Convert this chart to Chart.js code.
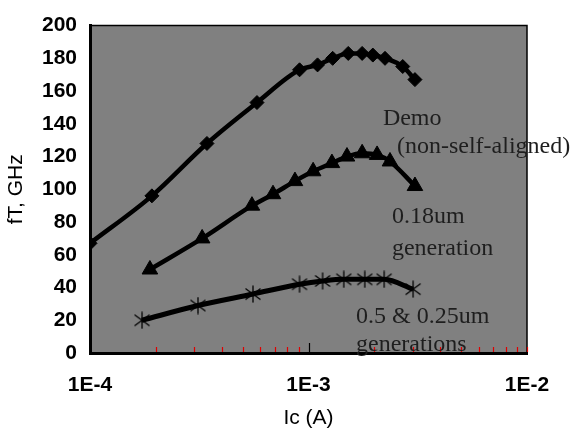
<!DOCTYPE html>
<html>
<head>
<meta charset="utf-8">
<script src="https://cdn.jsdelivr.net/npm/chart.js@4/dist/chart.umd.min.js"></script>
<style>
  html, body { margin: 0; padding: 0; background: #fff; }
  #wrap { width: 571px; height: 429px; position: relative; }
</style>
</head>
<body>
<div id="wrap"><canvas id="Chart"></canvas></div>
<script>
// Ic (A) and fT (GHz)
let demoIc = [1.0e-4, 1.92e-4, 3.43e-4, 5.81e-4, 9.1e-4, 1.10e-3, 1.29e-3, 1.52e-3, 1.76e-3, 1.97e-3, 2.24e-3, 2.70e-3, 3.07e-3];
let demoFt = [67, 96, 128, 153, 173, 176, 180, 183, 183, 182, 180, 175, 167];

let gen018Ic = [1.88e-4, 3.26e-4, 5.51e-4, 6.88e-4, 8.67e-4, 1.05e-3, 1.28e-3, 1.50e-3, 1.76e-3, 2.06e-3, 2.36e-3, 3.07e-3];
let gen018Ft = [51, 70, 90, 97, 105, 111, 116, 120, 122, 121, 117, 102];

let gen05Ic = [1.73e-4, 3.12e-4, 5.57e-4, 9.1e-4, 1.16e-3, 1.45e-3, 1.81e-3, 2.22e-3, 3.01e-3];
let gen05Ft = [20, 29, 36, 42, 44, 45, 45, 45, 39];

let xTickValues = [1e-4, 1e-3, 1e-2];
let xTickLabels = ['1E-4', '1E-3', '1E-2'];

// annotation text anchored at (Ic, fT), left edge / middle
let noteTexts = ['Demo', '(non-self-aligned)', '0.18um', 'generation', '0.5 & 0.25um', 'generations'];
let noteIc = [2.19e-3, 2.54e-3, 2.41e-3, 2.41e-3, 1.65e-3, 1.65e-3];
let noteFt = [143, 126, 83, 64, 22, 5];

function pts(xs, ys) {
    return xs.map((x, i) => ({x: x, y: ys[i]}));
}

// excel style star marker: X plus a vertical bar
function starMarker() {
    let c = document.createElement('canvas');
    c.width = 18; c.height = 18;
    let g = c.getContext('2d');
    g.strokeStyle = '#000';
    g.lineWidth = 1.3;
    g.beginPath();
    g.moveTo(9, 0.5); g.lineTo(9, 17.5);
    g.moveTo(1.5, 3.5); g.lineTo(16.5, 14.5);
    g.moveTo(16.5, 3.5); g.lineTo(1.5, 14.5);
    g.stroke();
    return c;
}

let plotBg = {
    id: 'plotBg',
    beforeDraw(chart) {
        let a = chart.chartArea, ctx = chart.ctx;
        ctx.save();
        ctx.fillStyle = '#808080';
        ctx.fillRect(a.left, a.top, a.right - a.left, a.bottom - a.top);
        ctx.strokeStyle = '#000';
        ctx.lineWidth = 1.5;
        ctx.beginPath();
        ctx.moveTo(a.left, a.top); ctx.lineTo(a.right, a.top); ctx.lineTo(a.right, a.bottom);
        ctx.stroke();
        ctx.restore();
    },
    afterDraw(chart) {
        let ctx = chart.ctx, x = chart.scales.x, y = chart.scales.y;
        ctx.save();
        // minor ticks on the log axis
        ctx.lineWidth = 1.2;
        for (let d = -4; d < -2; d++) {
            for (let k = 2; k <= 10; k++) {
                let px = Math.round(x.getPixelForValue(k * Math.pow(10, d))) + 0.5;
                let major = (k === 10 && d === -4);
                ctx.strokeStyle = major ? '#000' : '#e00000';
                let h = major ? 9 : 5;
                ctx.beginPath();
                ctx.moveTo(px, y.bottom - 1);
                ctx.lineTo(px, y.bottom - 1 - h);
                ctx.stroke();
            }
        }
        // annotations
        ctx.fillStyle = '#1e1e1e';
        ctx.font = '24px "Liberation Serif", "Times New Roman", serif';
        ctx.textBaseline = 'middle';
        ctx.textAlign = 'left';
        noteTexts.forEach((t, i) => {
            ctx.fillText(t, x.getPixelForValue(noteIc[i]), y.getPixelForValue(noteFt[i]));
        });
        ctx.restore();
    }
};

let graph = document.getElementById('Chart');

let chartdtl = {
    type: 'line',
    data: {
        datasets: [{
            label: 'Demo (non-self-aligned)',
            data: pts(demoIc, demoFt),
            borderColor: '#000',
            backgroundColor: '#000',
            borderWidth: 4.5,
            pointStyle: 'rectRot',
            pointRadius: 7,
            pointBorderWidth: 1,
            cubicInterpolationMode: 'monotone',
            clip: 0,
        }, {
            label: '0.18um generation',
            data: pts(gen018Ic, gen018Ft),
            borderColor: '#000',
            backgroundColor: '#000',
            borderWidth: 4.5,
            pointStyle: 'triangle',
            pointRadius: 9,
            pointBorderWidth: 1,
            cubicInterpolationMode: 'monotone',
        }, {
            label: '0.5 & 0.25um generations',
            data: pts(gen05Ic, gen05Ft),
            borderColor: '#000',
            backgroundColor: '#000',
            borderWidth: 5,
            pointStyle: starMarker(),
            cubicInterpolationMode: 'monotone',
        }],
    },
    options: {
        responsive: true,
        maintainAspectRatio: false,
        animation: false,
        layout: { padding: { left: 0, top: 18, right: 44, bottom: 0 } },
        plugins: {
            legend: { display: false },
            tooltip: { enabled: false },
        },
        scales: {
            x: {
                type: 'logarithmic',
                min: 1e-4,
                max: 1e-2,
                afterBuildTicks(scale) {
                    scale.ticks = xTickValues.map(v => ({value: v}));
                },
                afterFit(scale) { scale.height = 76; },
                grid: { display: false, drawTicks: false },
                border: { display: true, color: '#000', width: 3 },
                ticks: {
                    autoSkip: false,
                    maxRotation: 0,
                    padding: 20,
                    color: '#000',
                    font: { family: 'Arial, "Liberation Sans", sans-serif', size: 21, weight: 'bold' },
                    callback: function (v) {
                        let i = xTickValues.findIndex(t => Math.abs(t - v) / t < 1e-6);
                        return i >= 0 ? xTickLabels[i] : '';
                    },
                },
                title: {
                    display: true,
                    text: 'Ic (A)',
                    color: '#000',
                    padding: { top: 0, bottom: 0 },
                    font: { family: 'Arial, "Liberation Sans", sans-serif', size: 21, lineHeight: 1 },
                },
            },
            y: {
                min: 0,
                max: 200,
                afterFit(scale) { scale.width = 90; },
                grid: { display: false, drawTicks: false },
                border: { display: true, color: '#000', width: 3 },
                ticks: {
                    stepSize: 20,
                    padding: 13,
                    color: '#000',
                    font: { family: 'Arial, "Liberation Sans", sans-serif', size: 21, weight: 'bold' },
                },
                title: {
                    display: true,
                    text: 'fT, GHz',
                    color: '#000',
                    padding: { top: 6, bottom: 0 },
                    font: { family: 'Arial, "Liberation Sans", sans-serif', size: 21, lineHeight: 1 },
                },
            },
        },
    },
    plugins: [plotBg],
};

let presentdata = new Chart(graph, chartdtl);
</script>
</body>
</html>
